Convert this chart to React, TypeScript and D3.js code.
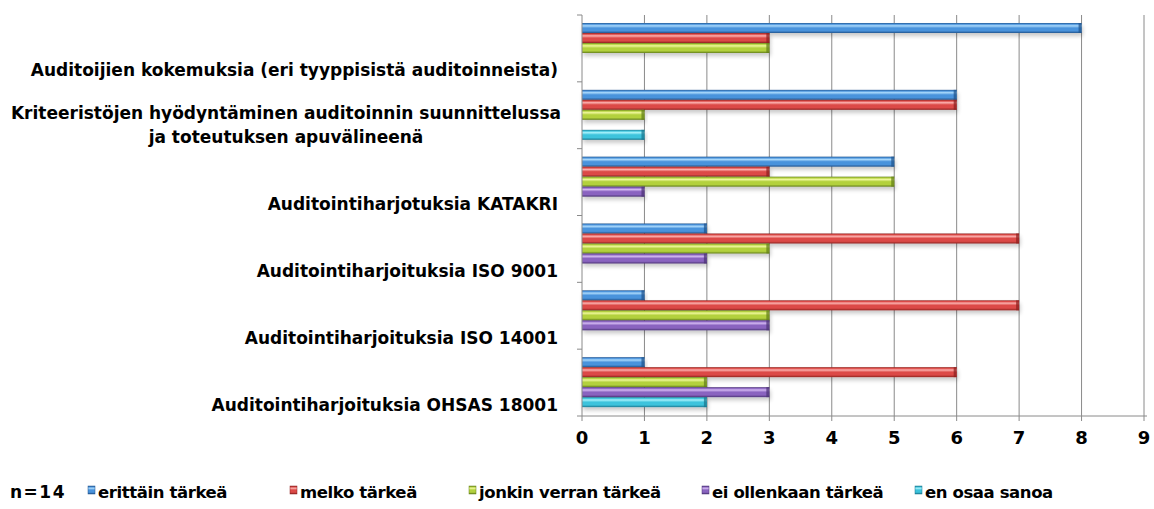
import React from "react";
import * as d3 from "d3";

const categories: string[][] = [
  ["Auditoijien kokemuksia (eri tyyppisistä auditoinneista)"],
  ["Kriteeristöjen hyödyntäminen auditoinnin suunnittelussa", "ja toteutuksen apuvälineenä"],
  ["Auditointiharjotuksia KATAKRI"],
  ["Auditointiharjoituksia ISO 9001"],
  ["Auditointiharjoituksia ISO 14001"],
  ["Auditointiharjoituksia OHSAS 18001"],
];
const seriesNames = ["erittäin tärkeä", "melko tärkeä", "jonkin verran tärkeä", "ei ollenkaan tärkeä", "en osaa sanoa"];
const erittain = [8, 6, 5, 2, 1, 1];
const melko = [3, 6, 3, 7, 7, 6];
const jonkin = [3, 1, 5, 3, 3, 2];
const eiOllenkaan = [0, 0, 1, 2, 3, 3];
const enOsaa = [0, 1, 0, 0, 0, 2];
const seriesValues = [erittain, melko, jonkin, eiOllenkaan, enOsaa];
const xTicks = [0, 1, 2, 3, 4, 5, 6, 7, 8, 9];
const nLabel = "n=14";

const colors = [
  { light: "#a8d8fb", main: "#4a93dc", dark: "#22558f" },
  { light: "#fbb0ae", main: "#dc4a47", dark: "#8f2220" },
  { light: "#eef79a", main: "#b3d13e", dark: "#64801b" },
  { light: "#d3b8f2", main: "#8a64c0", dark: "#4d3477" },
  { light: "#a6f1fb", main: "#3cc3dc", dark: "#1b7890" },
];

const FONT = "'DejaVu Sans', Verdana, sans-serif";

export default function App() {
  const W = 1154, H = 509;
  const x = d3.scaleLinear().domain([0, 9]).range([582, 1144]);
  const y = d3.scaleBand<number>().domain(d3.range(categories.length)).range([15, 416]).padding(0);
  const inner = d3.scaleBand<number>().domain(d3.range(seriesNames.length)).range([8, 58]).padding(0);
  const bh = inner.bandwidth();

  const legendX = [88, 290, 469, 702, 915];

  return (
    <svg width={W} height={H} style={{ position: "absolute", left: 0, top: 0, background: "#fff" }}>
      <defs>
        {colors.map((c, i) => (
          <linearGradient key={i} id={`g${i}`} x1="0" y1="0" x2="0" y2="1">
            <stop offset="0%" stopColor={c.dark} />
            <stop offset="12%" stopColor={c.main} />
            <stop offset="28%" stopColor={c.light} />
            <stop offset="50%" stopColor={c.main} />
            <stop offset="78%" stopColor={c.main} />
            <stop offset="100%" stopColor={c.dark} />
          </linearGradient>
        ))}
        <filter id="sh" x="-5%" y="-50%" width="110%" height="250%">
          <feGaussianBlur in="SourceAlpha" stdDeviation="2" />
          <feOffset dx="1" dy="3" result="b" />
          <feComponentTransfer><feFuncA type="linear" slope="0.22" /></feComponentTransfer>
          <feMerge><feMergeNode /><feMergeNode in="SourceGraphic" /></feMerge>
        </filter>
      </defs>

      {/* grid lines */}
      {xTicks.slice(1).map((t) => (
        <line key={t} x1={x(t)} x2={x(t)} y1={15} y2={416} stroke="#8a8a8a" strokeWidth={1} />
      ))}

      {/* bars */}
      {categories.map((_, ci) =>
        seriesValues.map((vals, si) => {
          const v = vals[ci];
          if (!v) return null;
          const y0 = (y(ci) as number) + (inner(si) as number);
          const x0 = x(0), x1 = x(v);
          return (
            <g key={`${ci}-${si}`} filter="url(#sh)">
              <rect x={x0} y={y0} width={x1 - x0} height={bh} fill={`url(#g${si})`} />
              <rect x={x1 - 3} y={y0} width={3} height={bh} fill={colors[si].dark} opacity={0.75} />
            </g>
          );
        })
      )}

      {/* axes */}
      <line x1={582} x2={582} y1={15} y2={416} stroke="#8a8a8a" />
      {d3.range(categories.length + 1).map((i) => {
        const yy = i < categories.length ? (y(i) as number) : 416;
        return <line key={i} x1={577} x2={582} y1={yy} y2={yy} stroke="#8a8a8a" />;
      })}
      <line x1={582} x2={x(9) + 3} y1={416} y2={416} stroke="#8a8a8a" />
      {xTicks.map((t) => (
        <g key={t}>
          <line x1={x(t)} x2={x(t)} y1={416} y2={421} stroke="#8a8a8a" />
          <text x={x(t)} y={444} textAnchor="middle" fontFamily={FONT} fontWeight="bold" fontSize={18} fill="#000">
            {t}
          </text>
        </g>
      ))}

      {/* category labels */}
      {categories.map((lines, ci) => {
        const base = (y(ci) as number) + y.bandwidth() / 2 + 28;
        const multi = lines.length > 1;
        return (
          <text key={ci} fontFamily={FONT} fontWeight="bold" fontSize={17} fill="#000" textAnchor={multi ? "middle" : "end"}>
            {lines.map((ln, li) => (
              <tspan key={li} x={multi ? 286 : 558} y={base - (lines.length - 1 - li) * 24}>
                {ln}
              </tspan>
            ))}
          </text>
        );
      })}

      {/* legend */}
      <text x={10} y={498} fontFamily={FONT} fontWeight="bold" fontSize={17} fill="#000" letterSpacing={1.5}>{nLabel}</text>
      {seriesNames.map((name, si) => (
        <g key={si}>
          <rect x={legendX[si]} y={486} width={7} height={8} fill={`url(#g${si})`} stroke={colors[si].dark} strokeWidth={0.5} />
          <text x={legendX[si] + 10} y={498} fontFamily={FONT} fontWeight="bold" fontSize={16.5} letterSpacing={-0.4} fill="#000">{name}</text>
        </g>
      ))}
    </svg>
  );
}
